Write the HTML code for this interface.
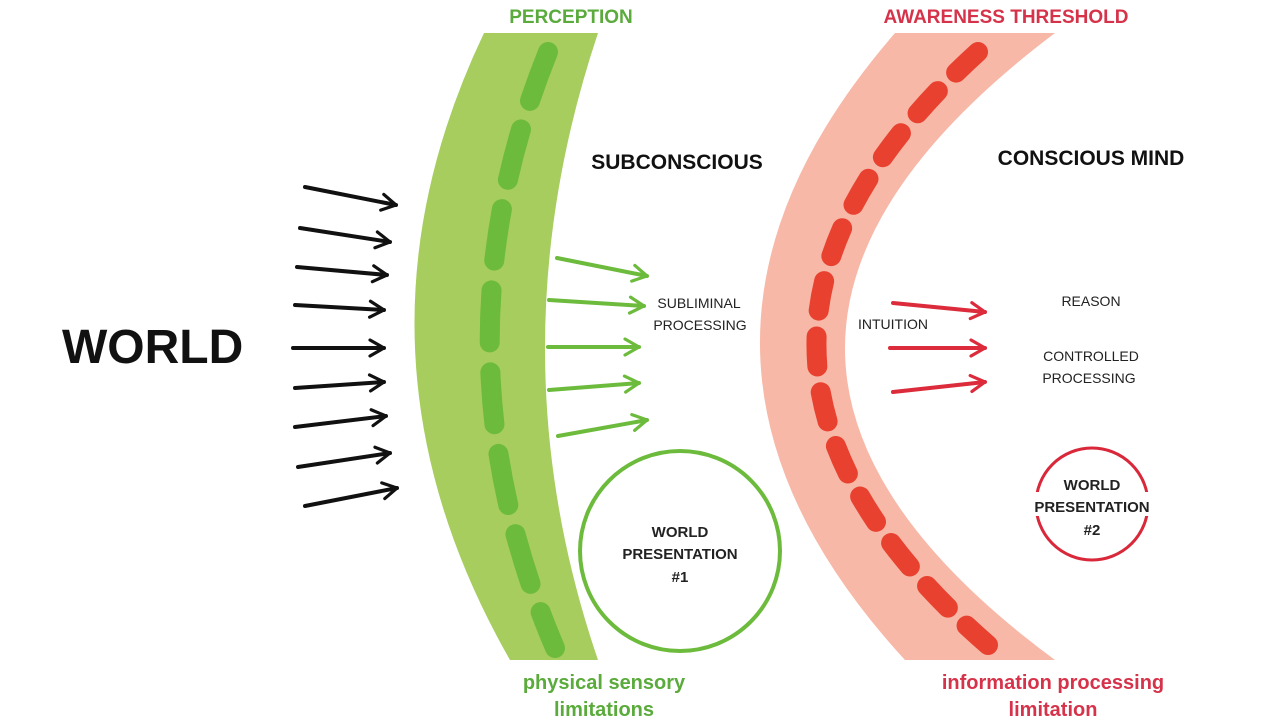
<!DOCTYPE html>
<html><head><meta charset="utf-8"><style>
html,body{margin:0;padding:0;background:#fff;}
svg{display:block;}
text{font-family:"Liberation Sans",sans-serif;}
</style></head><body>
<svg width="1280" height="720" viewBox="0 0 1280 720" xmlns="http://www.w3.org/2000/svg">
<defs>
<marker id="ab" viewBox="0 0 10 10" refX="8" refY="5" markerWidth="5" markerHeight="5" orient="auto" markerUnits="strokeWidth"><path d="M1,1 L8,5 L1,9" fill="none" stroke="#111" stroke-width="1.6" stroke-linecap="round" stroke-linejoin="round"/></marker>
<marker id="ag" viewBox="0 0 10 10" refX="8" refY="5" markerWidth="5" markerHeight="5" orient="auto" markerUnits="strokeWidth"><path d="M1,1 L8,5 L1,9" fill="none" stroke="#6cbb3c" stroke-width="1.6" stroke-linecap="round" stroke-linejoin="round"/></marker>
<marker id="ar" viewBox="0 0 10 10" refX="8" refY="5" markerWidth="5" markerHeight="5" orient="auto" markerUnits="strokeWidth"><path d="M1,1 L8,5 L1,9" fill="none" stroke="#dc2b3b" stroke-width="1.6" stroke-linecap="round" stroke-linejoin="round"/></marker>
</defs>

<!-- green band -->
<path d="M484,33 Q333,350 510,660 L598,660 Q492,350 598,33 Z" fill="#a6cd5e"/>
<path d="M548,52 Q428,350 555,648" fill="none" stroke="#6cbb3c" stroke-width="20" stroke-linecap="round" stroke-dasharray="52 30"/>

<!-- red band -->
<path d="M895,33 Q620,350 905,660 L1055,660 Q635,350 1055,33 Z" fill="#f7b8a8"/>
<path d="M978,52 Q650,350 988,645" fill="none" stroke="#e8412f" stroke-width="20" stroke-linecap="round" stroke-dasharray="30 26"/>

<!-- black arrows -->
<g stroke="#111" stroke-width="4" stroke-linecap="round" fill="none" marker-end="url(#ab)">
<line x1="305" y1="187" x2="396" y2="205"/>
<line x1="300" y1="228" x2="390" y2="242"/>
<line x1="297" y1="267" x2="387" y2="275"/>
<line x1="295" y1="305" x2="384" y2="310"/>
<line x1="293" y1="348" x2="384" y2="348"/>
<line x1="295" y1="388" x2="384" y2="382"/>
<line x1="295" y1="427" x2="386" y2="416"/>
<line x1="298" y1="467" x2="390" y2="453"/>
<line x1="305" y1="506" x2="397" y2="488"/>
</g>
<!-- green arrows -->
<g stroke="#6cbb3c" stroke-width="4" stroke-linecap="round" fill="none" marker-end="url(#ag)">
<line x1="557" y1="258" x2="647" y2="276"/>
<line x1="549" y1="300" x2="644" y2="306"/>
<line x1="548" y1="347" x2="639" y2="347"/>
<line x1="549" y1="390" x2="639" y2="383"/>
<line x1="558" y1="436" x2="647" y2="420"/>
</g>
<!-- red arrows -->
<g stroke="#dc2b3b" stroke-width="4" stroke-linecap="round" fill="none" marker-end="url(#ar)">
<line x1="893" y1="303" x2="985" y2="312"/>
<line x1="890" y1="348" x2="985" y2="348"/>
<line x1="893" y1="392" x2="985" y2="382"/>
</g>

<circle cx="680" cy="551" r="100" fill="none" stroke="#6cbb3c" stroke-width="4"/>
<circle cx="1092" cy="504" r="56" fill="none" stroke="#d9283a" stroke-width="3"/>
<rect x="1028" y="492" width="128" height="24" fill="#fff"/>

<text x="62" y="363" font-size="48" font-weight="bold" fill="#111">WORLD</text>
<text x="571" y="23" font-size="19" font-weight="bold" fill="#5aab3c" text-anchor="middle">PERCEPTION</text>
<text x="1006" y="23" font-size="19" font-weight="bold" fill="#d6334a" text-anchor="middle">AWARENESS THRESHOLD</text>
<text x="677" y="169" font-size="21" font-weight="bold" fill="#111" text-anchor="middle">SUBCONSCIOUS</text>
<text x="1091" y="165" font-size="21" font-weight="bold" fill="#111" text-anchor="middle">CONSCIOUS MIND</text>
<g font-size="14" fill="#222" text-anchor="middle">
<text x="699" y="308">SUBLIMINAL</text>
<text x="700" y="330">PROCESSING</text>
<text x="893" y="329">INTUITION</text>
<text x="1091" y="306">REASON</text>
<text x="1091" y="361">CONTROLLED</text>
<text x="1089" y="383">PROCESSING</text>
</g>
<g font-size="15" font-weight="bold" fill="#222" text-anchor="middle">
<text x="680" y="537">WORLD</text>
<text x="680" y="559">PRESENTATION</text>
<text x="680" y="582">#1</text>
<text x="1092" y="490">WORLD</text>
<text x="1092" y="512">PRESENTATION</text>
<text x="1092" y="535">#2</text>
</g>
<g font-size="20" font-weight="bold" fill="#5aab3c" text-anchor="middle">
<text x="604" y="689">physical sensory</text>
<text x="604" y="716">limitations</text>
</g>
<g font-size="20" font-weight="bold" fill="#d6334a" text-anchor="middle">
<text x="1053" y="689">information processing</text>
<text x="1053" y="716">limitation</text>
</g>
</svg>
</body></html>
